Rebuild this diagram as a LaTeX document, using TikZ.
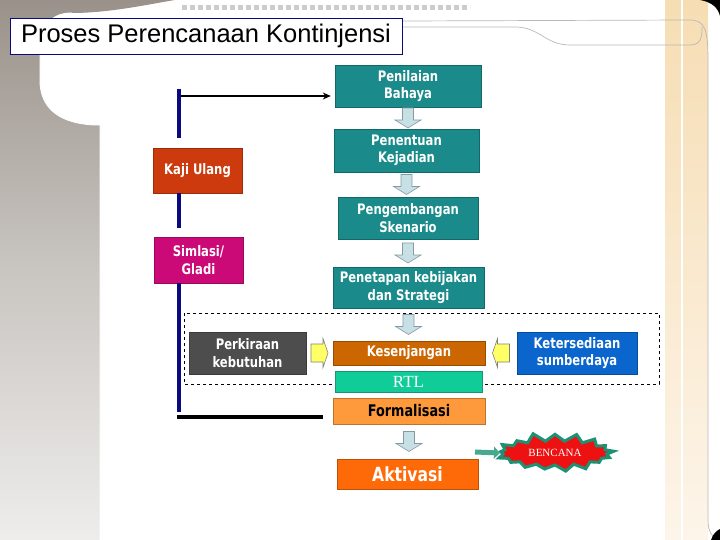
\documentclass[tikz,border=0pt]{standalone}
\usepackage{fontspec}
\setmainfont{Liberation Serif}
\newfontfamily\boxfont{DejaVu Sans}[FakeStretch=0.8]
\newfontfamily\titlefont{Liberation Sans}
\usetikzlibrary{calc, arrows.meta, shapes.symbols}
\definecolor{tealbox}{HTML}{1B8A8A}
\definecolor{kajicol}{HTML}{CC3A0E}
\definecolor{simcol}{HTML}{CC0A77}
\definecolor{perkcol}{HTML}{4D4D4D}
\definecolor{kescol}{HTML}{CC6600}
\definecolor{ketcol}{HTML}{0A66CC}
\definecolor{rtlcol}{HTML}{10CC99}
\definecolor{formcol}{HTML}{FF9A3C}
\definecolor{aktcol}{HTML}{FF6A08}
\definecolor{navyline}{HTML}{0A0A80}
\definecolor{arrblue}{HTML}{C6E0E6}
\definecolor{arryel}{HTML}{FFFF66}
\definecolor{burstred}{HTML}{EE1111}
\definecolor{burstgreen}{HTML}{1C9274}
\definecolor{photoA}{HTML}{9A928A}
\definecolor{photoM}{HTML}{C9C5C1}
\definecolor{photoB}{HTML}{EEEDEB}
\definecolor{beigeA}{HTML}{F6DDB3}
\definecolor{beigeB}{HTML}{FDF5EA}

% block arrow: style, centre, angle, length, shaft, head width, head length
\newcommand\fatarrow[7]{%
  \draw[#1, shift={(#2)}, rotate=#3]
    (-#4/2,-#5/2) -- (#4/2-#7,-#5/2) -- (#4/2-#7,-#6/2) -- (#4/2,0)
    -- (#4/2-#7,#6/2) -- (#4/2-#7,#5/2) -- (-#4/2,#5/2) -- cycle;}

\begin{document}
\begin{tikzpicture}[x=1pt, y=-1pt,
  every node/.style={inner sep=0pt, align=center},
  stepbox/.style={draw=#1!75!black, fill=#1, text=white,
    font=\boxfont\bfseries\fontsize{14.5}{17.5}\selectfont},
  stepbox/.default=tealbox,
  titlebox/.style={draw=navyline, fill=white, line width=0.8pt,
    font=\titlefont\fontsize{25.5}{28}\selectfont},
  downarr/.style={fill=arrblue, draw=gray!80!cyan, line width=0.6pt},
  sidearr/.style={fill=arryel, draw=gray, line width=0.6pt},
  loopline/.style={navyline, line width=4pt},
  backline/.style={black, line width=3.5pt},
  groupbox/.style={draw, dashed, line width=0.7pt},
  templine/.style={gray!55, line width=0.7pt},
]
\useasboundingbox (0,0) rectangle (720,540);

% Slide template
\shade[top color=photoA, bottom color=photoB, middle color=photoM]
  (0,0) -- (175,0) .. controls (150,4) and (110,13) .. (72,13)
  .. controls (48,13) and (40,30) .. (40,55) -- (40,80)
  .. controls (40,110) and (62,125) .. (100,125) -- (100,540) -- (0,540) -- cycle;
\draw[white, line width=1pt] (72,13) .. controls (48,13) and (40,30) .. (40,55) -- (40,80)
  .. controls (40,110) and (62,125) .. (100,125) -- (100,540);
\shade[top color=beigeA, bottom color=beigeB] (665,0) rectangle (708,540);
\draw[white, line width=1.5pt] (682,0) -- (682,540);
\draw[templine] (120,22) -- (690,20)
  .. controls (705,20) and (708,30) .. (708,60) -- (708,520)
  .. controls (708,532) and (712,538) .. (720,540);
\draw[templine] (150,27) -- (515,27) .. controls (540,27) and (545,45) .. (570,45)
  -- (690,45) .. controls (702,45) and (702,35) .. (702,27);
\draw[gray!40, line width=5pt, dash pattern=on 5pt off 3pt] (182,8) -- (470,8);
\fill[black] (700,0) .. controls (712,2) and (718,8) .. (720,16) -- (720,0) -- cycle;
\fill[black] (711,540) .. controls (713,534) and (716,531) .. (720,529) -- (720,540) -- cycle;

% Title
\node[titlebox, minimum width=392, minimum height=36] (title) at (206,36)
  {Proses Perencanaan Kontinjensi};

% Main chain
\node[stepbox, minimum width=146, minimum height=42] (pen) at (408,86) {Penilaian\\Bahaya};
\node[stepbox, minimum width=145, minimum height=43] (kej) at (406.5,150.5) {Penentuan\\Kejadian};
\node[stepbox, minimum width=140, minimum height=42] (skn) at (408,218) {Pengembangan\\Skenario};
\node[stepbox, minimum width=151, minimum height=41] (ktp) at (408.5,287.5) {Penetapan kebijakan\\dan Strategi};

% Review loop
\node[stepbox=kajicol, minimum width=89, minimum height=45] (kaji) at (197.5,170.5) {Kaji Ulang};
\node[stepbox=simcol, minimum width=89, minimum height=46] (sim) at (198.5,260) {Simlasi/\\Gladi};

% Gap analysis
\draw[groupbox] (184,313) rectangle (659,384);
\node[stepbox=perkcol, minimum width=117, minimum height=42] (perk) at (247.5,353) {Perkiraan\\kebutuhan};
\node[stepbox=kescol, minimum width=152, minimum height=24] (kes) at (409,353) {Kesenjangan};
\node[stepbox=ketcol, minimum width=120, minimum height=42] (ket) at (577,353) {Ketersediaan\\sumberdaya};

% Down arrows
\coordinate (m1) at ($(pen.south)!.5!(pen.south |- kej.north)$);
\coordinate (m2) at ($(kej.south)!.5!(kej.south |- skn.north)$);
\coordinate (m3) at ($(skn.south)!.5!(skn.south |- ktp.north)$);
\coordinate (m4) at ($(ktp.south)!.5!(ktp.south |- kes.north)$);
\coordinate (m6) at (409,383);
\foreach \m in {m1,m2,m3,m4,m6}
  {\fatarrow{downarr}{\m}{-90}{20}{11}{26}{8}}

% Side arrows
\coordinate (s1) at ($(perk.east)!.5!(kes.west)$);
\coordinate (s2) at ($(kes.east)!.5!(ket.west)$);
\fatarrow{sidearr}{s1}{0}{17}{18}{29}{5}
\fatarrow{sidearr}{s2}{180}{17}{18}{29}{5}

% Plan and activation
\node[stepbox=rtlcol, draw=burstgreen, line width=1pt, minimum width=147, minimum height=21,
  font=\fontsize{17}{18}\selectfont] (rtl) at (408.5,381.5) {RTL};
\node[stepbox=formcol, text=black, minimum width=152, minimum height=26,
  font=\boxfont\bfseries\fontsize{16}{18}\selectfont] (form) at (409,411) {Formalisasi};
\node[stepbox=aktcol, minimum width=141, minimum height=30,
  font=\boxfont\bfseries\fontsize{19.5}{22}\selectfont] (akt) at (407.5,474) {Aktivasi};
\coordinate (m5) at ($(form.south)!.5!(form.south |- akt.north)$);
\fatarrow{downarr}{m5}{-90}{20}{11}{26}{8}

% Loop lines
\coordinate (looptop) at (179,89);
\coordinate (loopbot) at (179,412);
\draw[loopline] (looptop) -- ([yshift=10pt]kaji.north -| looptop);
\draw[loopline] (kaji.south -| looptop) -- ([yshift=9pt]sim.north -| looptop);
\draw[loopline] (sim.south -| looptop) -- (loopbot);
\coordinate (arrstart) at (181,96);
\draw[black, line width=1.2pt, -{Stealth[length=8pt, width=7pt]}, shorten >=4pt]
  (arrstart) -- (arrstart -| pen.west);
\coordinate (backstart) at (177,417);
\draw[backline, shorten >=10pt] (backstart) -- (backstart -| form.west);

% Disaster trigger
\coordinate (bstart) at (475,452);
\node[starburst, fill=burstred, draw=burstgreen, line width=3pt,
  minimum width=122pt, minimum height=42pt, starburst points=17,
  starburst point height=9pt, random starburst=11, text=white,
  font=\fontsize{11}{12}\selectfont] (bencana) at (555,453) {BENCANA};
\draw[burstgreen!80!white, line width=5pt, -{Triangle[length=6pt, width=12pt]}]
  (bstart) -- (bencana.west);

\end{tikzpicture}
\end{document}
